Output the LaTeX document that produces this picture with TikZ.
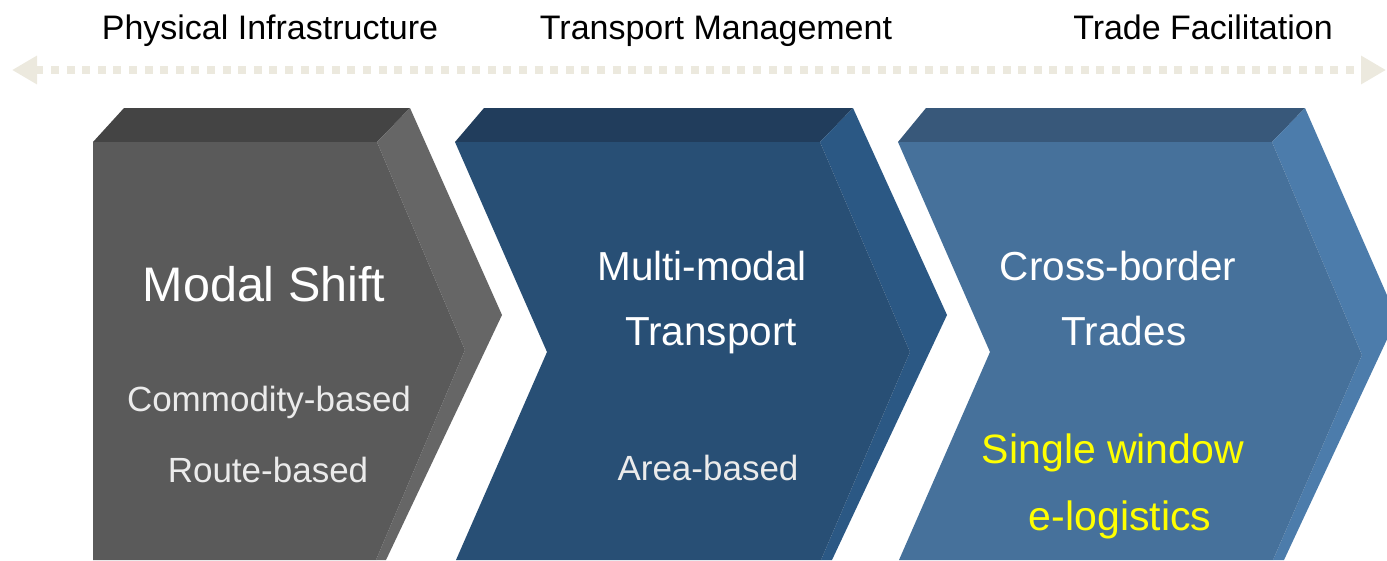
\documentclass[tikz,border=0pt]{standalone}
\usepackage{fontspec}
\setmainfont{Liberation Sans}
\usetikzlibrary{arrows.meta}

\definecolor{sandline}{RGB}{236,233,222}
\definecolor{grayfront}{RGB}{90,90,90}
\definecolor{graytop}{RGB}{68,68,68}
\definecolor{grayside}{RGB}{102,102,102}
\definecolor{navyfront}{RGB}{40,79,117}
\definecolor{navytop}{RGB}{33,61,92}
\definecolor{navyside}{RGB}{43,88,132}
\definecolor{steelfront}{RGB}{70,113,155}
\definecolor{steeltop}{RGB}{56,88,122}
\definecolor{steelside}{RGB}{76,124,171}
\definecolor{hiyellow}{RGB}{255,255,0}

\tikzset{
	toplabel/.style={anchor=base, text=black, font=\fontsize{34}{40}\selectfont},
	title/.style={anchor=base, text=white, font=\fontsize{40.5}{46}\selectfont},
	sub/.style={anchor=base, text=white!92!black, font=\fontsize{35}{40}\selectfont},
	hilite/.style={anchor=base, text=hiyellow, font=\fontsize{41}{47}\selectfont}
}

\begin{document}
\begin{tikzpicture}[x=1pt, y=-1pt]
	\useasboundingbox (0,0) rectangle (1387,560);
	\clip (0,0) rectangle (1387,560);

	% dotted double arrow
	\coordinate (west) at (12,70);
	\coordinate (east) at (1386,70);
	\draw [sandline, line width=8pt, dash pattern=on 8pt off 7.6pt,
		{Triangle[length=25pt, width=27pt]}-{Triangle[length=25pt, width=27pt]}] (west) -- (east);

	\node [toplabel] (phys) at (270,39) {Physical Infrastructure};
	\node [toplabel] (trman) at (716,39) {Transport Management};
	\node [toplabel] (trfac) at (1203,39) {Trade Facilitation};

	% first block
	\fill [graytop] (93,142) -- (124,108) -- (410,108) -- (377,142) -- cycle;
	\fill [grayside] (377,142) -- (410,108) -- (502,315) -- (386,560) -- (376,560) -- (465,350) -- cycle;
	\fill [grayfront] (93,142) -- (377,142) -- (465,350) -- (376,560) -- (93,560) -- cycle;

	% second block
	\fill [navytop] (455,142) -- (484,108) -- (853,108) -- (820,142) -- cycle;
	\fill [navyside] (820,142) -- (853,108) -- (947,315) -- (832,560) -- (821,560) -- (910,352) -- cycle;
	\fill [navyfront] (455,142) -- (820,142) -- (910,352) -- (821,560) -- (456,560) -- (547,352) -- cycle;

	% third block
	\fill [steeltop] (898,142) -- (926,108) -- (1305,108) -- (1272,142) -- cycle;
	\fill [steelside] (1272,142) -- (1305,108) -- (1397,318) -- (1284,560) -- (1273,560) -- (1362,355) -- cycle;
	\fill [steelfront] (898,142) -- (1272,142) -- (1362,355) -- (1273,560) -- (899,560) -- (990,352) -- cycle;

	\node [title, font=\fontsize{48.5}{54}\selectfont] (modal) at (264,301) {Modal Shift};
	\node [sub] (commod) at (269,411) {Commodity-based};
	\node [sub] (route) at (268,482) {Route-based};

	\node [title] (multi) at (702,280) {Multi-modal};
	\node [title] (transp) at (711,345) {Transport};
	\node [sub] (area) at (708,480) {Area-based};

	\node [title] (cross) at (1118,280) {Cross-border};
	\node [title] (trades) at (1124,345) {Trades};
	\node [hilite] (single) at (1113,463) {Single window};
	\node [hilite] (elog) at (1120,530) {e-logistics};
\end{tikzpicture}
\end{document}
